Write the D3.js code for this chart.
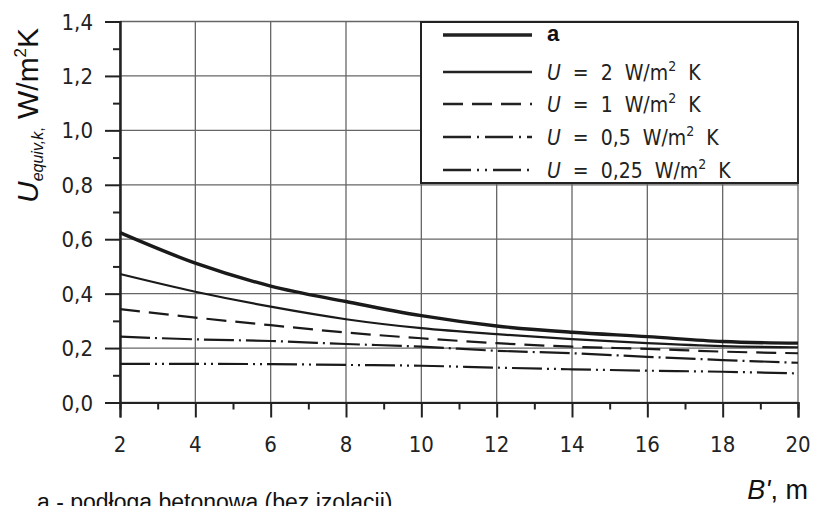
<!DOCTYPE html>
<html>
<head>
<meta charset="utf-8">
<script src="https://cdn.jsdelivr.net/npm/d3@7"></script>
<style>
  body { margin: 0; background: #fff; }
  svg { display: block; }
  .tick-label { font-family: "Liberation Sans Narrow", "DejaVu Sans Condensed", "Roboto", sans-serif; fill: #222; }
  .arial { font-family: "Liberation Sans", Arial, sans-serif; fill: #111; }
</style>
</head>
<body>
<svg id="chart" width="813" height="506"></svg>
<script>
// values
var b_values = [2, 4, 6, 8, 10, 12, 14, 16, 18, 20];
var series_a = [0.624, 0.512, 0.428, 0.371, 0.319, 0.281, 0.258, 0.242, 0.224, 0.218];
var series_u2 = [0.472, 0.407, 0.352, 0.306, 0.273, 0.251, 0.233, 0.218, 0.207, 0.203];
var series_u1 = [0.343, 0.312, 0.284, 0.257, 0.236, 0.218, 0.205, 0.197, 0.187, 0.181];
var series_u05 = [0.242, 0.232, 0.226, 0.215, 0.205, 0.190, 0.181, 0.168, 0.156, 0.146];
var series_u025 = [0.142, 0.142, 0.141, 0.138, 0.135, 0.128, 0.122, 0.117, 0.113, 0.107];

var x_ticks = [2, 4, 6, 8, 10, 12, 14, 16, 18, 20];
var y_ticks = [0, 0.2, 0.4, 0.6, 0.8, 1.0, 1.2, 1.4];
var legend_labels = ["a", "2", "1", "0,5", "0,25"];

var svg = d3.select("#chart");

var x = d3.scaleLinear().domain([2, 20]).range([120, 798]);
var y = d3.scaleLinear().domain([0, 1.4]).range([402.5, 21.5]);

// grid
var grid = svg.append("g");
grid.selectAll("line.vg").data(x_ticks).enter().append("line")
  .attr("x1", function(d){ return x(d); }).attr("x2", function(d){ return x(d); })
  .attr("y1", y(1.4)).attr("y2", y(0))
  .style("stroke", "#666").style("stroke-width", 1.3);
grid.selectAll("line.hg").data(y_ticks).enter().append("line")
  .attr("x1", x(2)).attr("x2", x(20))
  .attr("y1", function(d){ return y(d); }).attr("y2", function(d){ return y(d); })
  .style("stroke", "#666").style("stroke-width", 1.3);

// axes
var x_axis = d3.axisBottom(x).tickValues(x_ticks).tickSize(15).tickFormat("");
var x_minor = d3.axisBottom(x).tickValues(d3.range(3, 20, 2)).tickSize(7).tickFormat("");
var y_axis = d3.axisLeft(y).tickValues(y_ticks).tickSize(15).tickFormat("");
var y_minor = d3.axisLeft(y).tickValues(d3.range(0.1, 1.4, 0.2)).tickSize(7).tickFormat("");

function style_axis(g){
  g.selectAll("path").style("stroke", "#222").style("stroke-width", 2);
  g.selectAll("line").style("stroke", "#222").style("stroke-width", 2);
}

svg.append("g").attr("transform", "translate(0," + y(0) + ")").call(x_axis).call(style_axis);
svg.append("g").attr("transform", "translate(0," + y(0) + ")").call(x_minor).call(style_axis);
svg.append("g").attr("transform", "translate(" + x(2) + ",0)").call(y_axis).call(style_axis);
svg.append("g").attr("transform", "translate(" + x(2) + ",0)").call(y_minor).call(style_axis);

// tick labels
svg.selectAll("text.xl").data(x_ticks).enter().append("text")
  .attr("class", "tick-label")
  .attr("x", function(d){ return x(d); })
  .attr("y", 452)
  .attr("text-anchor", "middle")
  .attr("font-size", "22px")
  .text(function(d){ return d; });

svg.selectAll("text.yl").data(y_ticks).enter().append("text")
  .attr("class", "tick-label")
  .attr("x", 93)
  .attr("y", function(d){ return y(d) + 8; })
  .attr("text-anchor", "end")
  .attr("font-size", "22px")
  .text(function(d){ return d.toFixed(1).replace(".", ","); });

// curves
var series = [
  {values: series_a, width: 3.4, dash: null},
  {values: series_u2, width: 2.2, dash: null},
  {values: series_u1, width: 2.2, dash: "20,9"},
  {values: series_u05, width: 2.2, dash: "30,5,2,5"},
  {values: series_u025, width: 2.2, dash: "30,5,2,5,2,5"}
];

var line = d3.line()
  .x(function(d, i){ return x(b_values[i]); })
  .y(function(d){ return y(d); })
  .curve(d3.curveMonotoneX);

for (var i = 0; i < series.length; i++) {
  svg.append("path")
    .attr("d", line(series[i].values))
    .style("fill", "none")
    .style("stroke", "#1a1a1a")
    .style("stroke-width", series[i].width)
    .style("stroke-dasharray", series[i].dash);
}

// legend
var legend = svg.append("g");
legend.append("rect")
  .attr("x", 421).attr("y", 22).attr("width", 377).attr("height", 161)
  .style("fill", "#fff").style("stroke", "#222").style("stroke-width", 2);

var row_y = [35, 72, 104, 137, 170];
var legend_dash = [null, null, "20,9", "28,6,2,6", "28,6,2,6,2,6"];
var legend_width = [3.6, 2.6, 2.6, 2.6, 2.6];

for (var j = 0; j < legend_labels.length; j++) {
  legend.append("line")
    .attr("x1", 443).attr("x2", 532)
    .attr("y1", row_y[j]).attr("y2", row_y[j])
    .style("stroke", "#222")
    .style("stroke-width", legend_width[j])
    .style("stroke-dasharray", legend_dash[j]);

  if (j == 0) {
    legend.append("text").attr("class", "arial")
      .attr("x", 547).attr("y", row_y[j] + 6)
      .attr("font-size", "22px").attr("font-weight", "bold")
      .text("a");
  } else {
    var t = legend.append("text").attr("class", "tick-label")
      .attr("x", 547).attr("y", row_y[j] + 8)
      .attr("font-size", "21px")
      .attr("xml:space", "preserve")
      .style("white-space", "pre");
    t.append("tspan").attr("font-style", "italic").text("U");
    t.append("tspan").text("  =  " + legend_labels[j] + "  W/m");
    t.append("tspan").attr("font-size", "14px").attr("dy", -9).text("2");
    t.append("tspan").attr("dy", 9).text("  K");
  }
}

// axis titles
var ylab = svg.append("text").attr("class", "arial")
  .attr("transform", "translate(38,203) rotate(-90)")
  .attr("font-size", "30px");
ylab.append("tspan").attr("font-style", "italic").text("U");
ylab.append("tspan").attr("font-style", "italic").attr("font-size", "16px").attr("dy", 5).text("equiv,k");
ylab.append("tspan").attr("font-size", "16px").text(",");
ylab.append("tspan").attr("dy", -5).text(" W/m");
ylab.append("tspan").attr("font-size", "17px").attr("dy", -12).text("2");
ylab.append("tspan").attr("dy", 12).text("K");

var xlab = svg.append("text").attr("class", "arial")
  .attr("x", 808).attr("y", 499)
  .attr("text-anchor", "end")
  .attr("font-size", "27px");
xlab.append("tspan").attr("font-style", "italic").text("B'");
xlab.append("tspan").text(", m");

// caption, cut by the lower edge as in the picture
svg.append("text").attr("class", "arial")
  .attr("x", 37).attr("y", 510)
  .attr("font-size", "23px")
  .text("a - podłoga betonowa (bez izolacji)");
</script>
</body>
</html>
